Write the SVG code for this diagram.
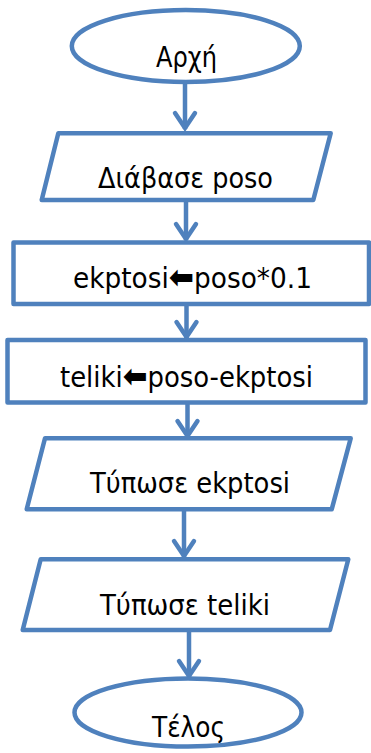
<svg xmlns="http://www.w3.org/2000/svg" width="371" height="753" viewBox="0 0 371 753">
<style>
.shape{fill:#fff;stroke:#4F81BD;stroke-width:4.5;stroke-linejoin:round}
.conn{fill:none;stroke:#4F81BD;stroke-width:4.5}
.lbl{font-family:"DejaVu Sans Condensed","DejaVu Sans",sans-serif;font-size:28px;fill:#000}
.arr{font-weight:bold;font-size:32px}
</style>
<defs>
<marker id="head" markerUnits="userSpaceOnUse" viewBox="-22 -14 26 28" refX="0" refY="0" markerWidth="26" markerHeight="28" orient="auto" overflow="visible">
<path d="M-16,-10 L-1,0 L-16,10" fill="none" stroke="#4F81BD" stroke-width="4.5" stroke-linecap="round"/>
</marker>
</defs>
<g id="connectors">
<line class="conn" x1="185" y1="82" x2="185" y2="129" marker-end="url(#head)"/>
<line class="conn" x1="186" y1="200" x2="186" y2="240" marker-end="url(#head)"/>
<line class="conn" x1="186.5" y1="304" x2="186.5" y2="338" marker-end="url(#head)"/>
<line class="conn" x1="187.5" y1="402.5" x2="187.5" y2="437" marker-end="url(#head)"/>
<line class="conn" x1="184" y1="509" x2="184" y2="557" marker-end="url(#head)"/>
<line class="conn" x1="189" y1="630" x2="189" y2="677" marker-end="url(#head)"/>
</g>
<g id="start">
<ellipse class="shape" cx="185.8" cy="46" rx="114" ry="36"/>
<text class="lbl" x="156" y="67" textLength="61" lengthAdjust="spacingAndGlyphs">Αρχή</text>
</g>
<g id="read">
<polygon class="shape" points="58.3,133.3 330.7,133.3 313.3,200 41.7,200"/>
<text class="lbl" x="98" y="188" textLength="175" lengthAdjust="spacingAndGlyphs">Διάβασε poso</text>
</g>
<g id="calc1">
<rect class="shape" x="13.5" y="242.5" width="355.5" height="61.5"/>
<text class="lbl" x="73" y="288" textLength="239" lengthAdjust="spacingAndGlyphs">ekptosi<tspan class="arr">⬅</tspan>poso*0.1</text>
</g>
<g id="calc2">
<rect class="shape" x="7.5" y="340" width="358" height="62.5"/>
<text class="lbl" x="60" y="387" textLength="253" lengthAdjust="spacingAndGlyphs">teliki<tspan class="arr">⬅</tspan>poso-ekptosi</text>
</g>
<g id="print1">
<polygon class="shape" points="45,438.3 350.7,438.3 331.7,509.3 26.7,509.3"/>
<text class="lbl" x="90" y="493" textLength="200" lengthAdjust="spacingAndGlyphs">Τύπωσε ekptosi</text>
</g>
<g id="print2">
<polygon class="shape" points="40.7,559.3 348.3,559.3 330,630 22.7,630"/>
<text class="lbl" x="100" y="615" textLength="170" lengthAdjust="spacingAndGlyphs">Τύπωσε teliki</text>
</g>
<g id="end">
<ellipse class="shape" cx="188" cy="712.5" rx="113.5" ry="34"/>
<text class="lbl" x="152" y="737" textLength="73" lengthAdjust="spacingAndGlyphs">Τέλος</text>
</g>
</svg>
